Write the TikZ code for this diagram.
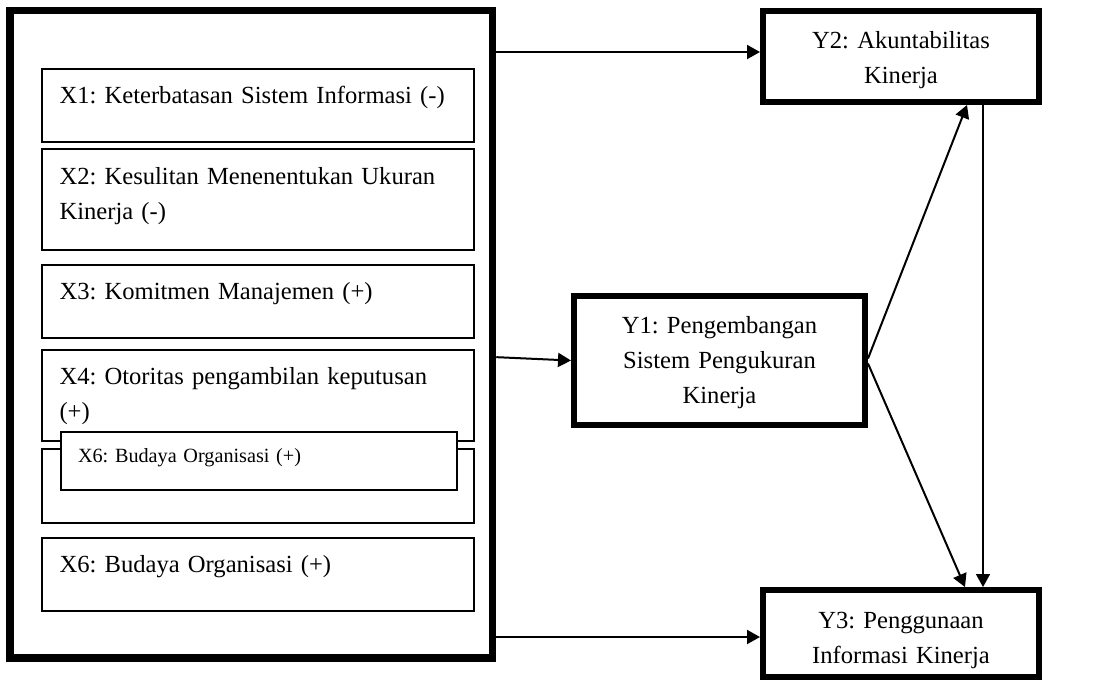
\documentclass[tikz,border=0pt]{standalone}
\usepackage{fontspec}
\setmainfont{Liberation Serif}
\frenchspacing
\usetikzlibrary{arrows.meta,calc}

\tikzset{
  varbox/.style={draw,line width=1pt,outer sep=0pt,anchor=north west,inner xsep=9pt,inner ysep=0pt,
    text width=198pt,align=left,text height=17.5pt,font=\fontsize{12.3}{17.5}\selectfont},
  ybox/.style={draw,line width=3pt,inner sep=0pt,text width=128pt,align=center,text height=10pt,font=\fontsize{12.3}{17.5}\selectfont},
  arr/.style={line width=1pt,-{Triangle[length=6.5pt,width=7pt]}},
}

\begin{document}
\begin{tikzpicture}[x=0.5pt,y=-0.5pt]
  \useasboundingbox (0,0) rectangle (1097,682);
  % group of independent variables
  \node[draw,line width=3.75pt,minimum width=241.25pt,minimum height=323.85pt,inner sep=0pt] (xgroup) at (251.25,334.15) {};
  \foreach \n/\ty/\dd/\l in {x1/68.5/19pt/{X1: Keterbatasan Sistem Informasi (-)},
      x2/149/32.75pt/{X2: Kesulitan Menenentukan Ukuran\\Kinerja (-)},
      x3/264.5/19pt/{X3: Komitmen Manajemen (+)},
      x4/349.5/28.25pt/{X4: Otoritas pengambilan keputusan\\(+)},
      x5/449/19.5pt/{},
      x6/537.5/19pt/{X6: Budaya Organisasi (+)}}
    {\node[varbox,text depth=\dd] (\n) at (41.5,\ty) {\l};}
  \node[varbox,fill=white,text width=181pt,inner xsep=8.5pt,text height=15pt,text depth=14pt,
    font=\fontsize{10.1}{14}\selectfont] (xover) at (61,432) {X6: Budaya Organisasi (+)};

  % dependent variables
  \node[ybox,minimum width=138pt,minimum height=45.5pt,text depth=18.5pt] (y2) at (901,56.5) {Y2: Akuntabilitas\\Kinerja};
  \node[ybox,minimum width=145.5pt,minimum height=64.5pt,text depth=37.5pt] (y1) at (719.5,360.5) {Y1: Pengembangan\\Sistem Pengukuran\\Kinerja};
  \node[ybox,minimum width=138pt,minimum height=43.5pt,text depth=15.5pt] (y3) at (901,633.5) {Y3: Penggunaan\\Informasi Kinerja};

  \draw[arr] ($(xgroup.east |- y2.west)+(0,-4.5)$) -- ($(y2.west)+(0,-4.5)$);
  \draw[arr] ($(xgroup.east)+(0,23)$) -- (y1.west);
  \draw[arr] ($(xgroup.east |- y3.west)+(0,3.5)$) -- ($(y3.west)+(0,3.5)$);
  \draw[arr] ($(y1.east)+(0,-2)$) -- ($(y2.south)+(66,0)$);
  \draw[arr] ($(y1.east)+(0,3)$) -- ($(y3.north)+(64,0)$);
  \draw[arr,line width=0.8pt] ($(y2.south)+(82,0)$) -- ($(y3.north)+(82,0)$);
\end{tikzpicture}
\end{document}
